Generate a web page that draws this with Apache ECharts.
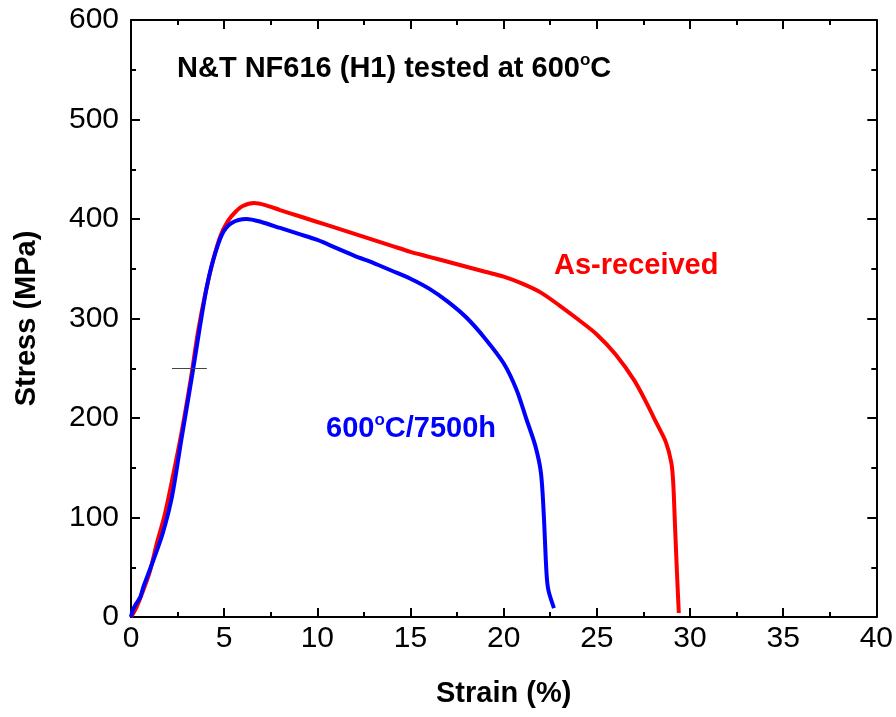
<!DOCTYPE html>
<html>
<head>
<meta charset="utf-8">
<script src="https://cdn.jsdelivr.net/npm/echarts@6/dist/echarts.min.js"></script>
<style>
  html, body { margin: 0; padding: 0; background: #fff; }
  #chart { width: 896px; height: 717px; }
</style>
</head>
<body>
<div id="chart"></div>
<script>
// strain (%) / stress (MPa)
const asReceivedStrain = [0, 0.3, 0.6, 1.0, 1.4, 1.8, 2.2, 2.7, 3.2, 3.6, 4.0, 4.4, 4.8, 5.2, 5.6, 6.0, 6.6, 7.2, 8.0, 9.0, 10.0, 11.0, 12.0, 13.0, 14.0, 15.0, 16.0, 17.0, 18.0, 19.0, 20.0, 21.0, 22.0, 23.0, 24.0, 25.0, 26.0, 27.0, 27.7, 28.2, 28.7, 29.0, 29.1, 29.2, 29.3, 29.4];
const asReceivedStress = [0, 10, 24, 45, 75, 102, 137, 184, 238, 287, 326, 358, 383, 398, 407, 413, 416, 414, 409, 403, 397, 391, 385, 379, 373, 367, 362, 357, 352, 347, 342, 335, 326, 313, 299, 284, 264, 238, 214, 195, 176, 155, 135, 90, 45, 4];

const agedStrain = [0, 0.1, 0.3, 0.5, 0.66, 0.9, 1.2, 1.7, 2.2, 2.7, 3.3, 3.7, 4.05, 4.4, 4.9, 5.4, 6.2, 7.0, 8.0, 9.0, 10.0, 11.0, 12.0, 13.0, 14.0, 15.0, 16.0, 17.0, 18.0, 19.0, 20.0, 20.7, 21.2, 21.7, 22.0, 22.15, 22.3, 22.4, 22.7];
const agedStress = [0, 7, 14, 20, 30, 42, 57, 84, 121, 178, 245, 292, 330, 358, 385, 396, 400, 397, 391, 385, 379, 371, 363, 356, 348, 340, 330, 317, 301, 280, 255, 228, 200, 172, 145, 104, 44, 27, 9];

const xTicks = [0, 40, 5];   // min, max, step
const yTicks = [0, 600, 100];
const markY = 250;
const markX = [2.2, 4.07];

const FONT = "'Liberation Sans', Arial, sans-serif";

const chart = echarts.init(document.getElementById('chart'), null, { renderer: 'canvas' });

const pairs = (xs, ys) => xs.map((x, i) => [x, ys[i]]);

function axisBase(extra) {
  return Object.assign({
    type: 'value',
    axisLine: { show: true, onZero: false, lineStyle: { color: '#000', width: 2 } },
    axisTick: { show: true, inside: true, length: 9, lineStyle: { color: '#000', width: 2 } },
    minorTick: { show: true, splitNumber: 2, length: 5, lineStyle: { color: '#000', width: 2 } },
    splitLine: { show: false },
    minorSplitLine: { show: false },
    axisLabel: { show: true, color: '#000', fontSize: 30, fontFamily: FONT }
  }, extra);
}

// rich text with a raised small "o" for degrees
function supRich(color) {
  return {
    a: { fontSize: 29, fontWeight: 'bold', fontFamily: FONT, fill: color, lineHeight: 34 },
    s: { fontSize: 17, fontWeight: 'bold', fontFamily: FONT, fill: color, verticalAlign: 'top', lineHeight: 12 }
  };
}

const option = {
  animation: false,
  backgroundColor: '#fff',
  grid: { left: 131, right: 18, top: 20, bottom: 100, containLabel: false },
  xAxis: [
    axisBase({
      min: xTicks[0], max: xTicks[1], interval: xTicks[2], position: 'bottom',
      name: 'Strain (%)', nameLocation: 'middle', nameGap: 62,
      nameTextStyle: { color: '#000', fontSize: 29, fontWeight: 'bold', fontFamily: FONT },
      axisLabel: { color: '#000', fontSize: 30, fontFamily: FONT, margin: 7 }
    }),
    axisBase({
      min: xTicks[0], max: xTicks[1], interval: xTicks[2], position: 'top',
      axisLabel: { show: false }
    })
  ],
  yAxis: [
    axisBase({
      min: yTicks[0], max: yTicks[1], interval: yTicks[2], position: 'left',
      name: 'Stress (MPa)', nameLocation: 'middle', nameGap: 90,
      nameTextStyle: { color: '#000', fontSize: 29, fontWeight: 'bold', fontFamily: FONT },
      axisLabel: { color: '#000', fontSize: 30, fontFamily: FONT, margin: 12 }
    }),
    axisBase({
      min: yTicks[0], max: yTicks[1], interval: yTicks[2], position: 'right',
      axisLabel: { show: false }
    })
  ],
  series: [
    {
      name: 'As-received',
      type: 'line',
      data: pairs(asReceivedStrain, asReceivedStress),
      showSymbol: false,
      smooth: 0.3,
      lineStyle: { color: '#ff0000', width: 4 },
      z: 2
    },
    {
      name: '600oC/7500h',
      type: 'line',
      data: pairs(agedStrain, agedStress),
      showSymbol: false,
      smooth: 0.3,
      lineStyle: { color: '#0000ff', width: 4 },
      z: 3,
      markLine: {
        silent: true,
        symbol: ['none', 'none'],
        label: { show: false },
        lineStyle: { color: '#444', width: 1, type: 'solid' },
        data: [[{ coord: [markX[0], markY] }, { coord: [markX[1], markY] }]]
      }
    }
  ],
  graphic: [
    {
      type: 'text', left: 177, top: 52,
      style: { text: '{a|N&T NF616 (H1) tested at 600}{s|o}{a|C}', rich: supRich('#000') }
    },
    {
      type: 'text', left: 554, top: 251,
      style: { text: 'As-received', fontSize: 29, fontWeight: 'bold', fontFamily: FONT, fill: '#ff0000' }
    },
    {
      type: 'text', left: 326, top: 412,
      style: { text: '{a|600}{s|o}{a|C/7500h}', rich: supRich('#0000ff') }
    }
  ]
};

chart.setOption(option);
</script>
</body>
</html>
